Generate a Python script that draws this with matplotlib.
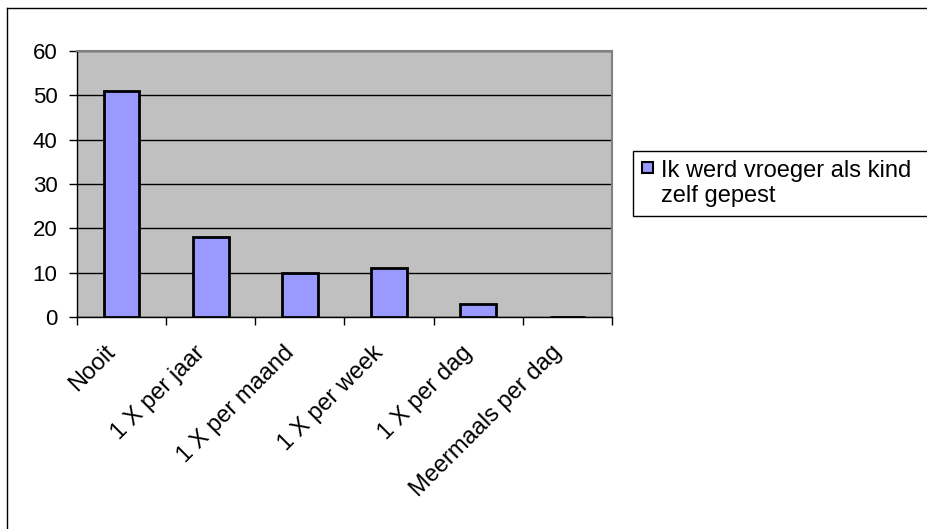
import numpy as np
import matplotlib
matplotlib.use('Agg')
import matplotlib.pyplot as plt
from matplotlib.lines import Line2D
from matplotlib.patches import Rectangle
from matplotlib.transforms import ScaledTranslation

categories = ['Nooit', '1 X per jaar', '1 X per maand', '1 X per week', '1 X per dag', 'Meermaals per dag']
values = [51, 18, 10, 11, 3, 0]
series_name = 'Ik werd vroeger als kind\nzelf gepest'

plt.rcParams['font.family'] = ['Liberation Sans', 'DejaVu Sans']

W, H = 927, 529
fig = plt.figure(figsize=(W / 100, H / 100), dpi=100)
ax = fig.add_axes([77 / W, (H - 317) / H, 535 / W, 266 / H])

bar_color = '#9999FF'
x = np.arange(len(categories))
ax.set_facecolor('#C0C0C0')
ax.bar(x, values, width=0.4, color=bar_color, edgecolor='black', linewidth=2, zorder=3)

ax.set_xlim(-0.5, len(categories) - 0.5)
ax.set_ylim(0, 60)
ax.set_yticks(range(0, 61, 10))
ax.yaxis.grid(True, color='black', linewidth=1, zorder=1)
ax.set_axisbelow(True)

ax.set_xticks(np.arange(-0.5, len(categories), 1))
ax.set_xticklabels([])
ax.set_xticks(x, minor=True)
ax.set_xticklabels(categories, minor=True, rotation=45, ha='right', va='top',
                   rotation_mode='anchor', fontsize=17)
ax.tick_params(axis='x', which='minor', length=0, pad=14)
ax.tick_params(axis='x', which='major', length=6, width=1, direction='out')
ax.tick_params(axis='y', length=6, width=1, direction='out', labelsize=16, pad=8)

shift = ScaledTranslation(-17 / 100, -5 / 100, fig.dpi_scale_trans)
for lbl in ax.get_xticklabels(minor=True):
    lbl.set_transform(lbl.get_transform() + shift)

for s in ['top', 'right']:
    ax.spines[s].set_color('#808080')
    ax.spines[s].set_linewidth(1.5)
for s in ['left', 'bottom']:
    ax.spines[s].set_color('black')
    ax.spines[s].set_linewidth(1)

# outer chart frame
fig.add_artist(Line2D([7 / W, 7 / W], [0, 1 - 8 / H], color='black', linewidth=1, transform=fig.transFigure))
fig.add_artist(Line2D([7 / W, 1], [1 - 8 / H, 1 - 8 / H], color='black', linewidth=1, transform=fig.transFigure))

# legend box (runs off the right edge like the original)
fig.add_artist(Rectangle((633 / W, 1 - 216 / H), 400 / W, 65 / H, transform=fig.transFigure,
                         facecolor='white', edgecolor='black', linewidth=1))
fig.add_artist(Rectangle((642 / W, 1 - 173 / H), 11 / W, 11 / H, transform=fig.transFigure,
                         facecolor=bar_color, edgecolor='black', linewidth=1.5))
fig.text(661 / W, 1 - 160 / H, series_name, fontsize=17, ha='left', va='top', linespacing=1.2)

plt.savefig('out.png', dpi=100)
